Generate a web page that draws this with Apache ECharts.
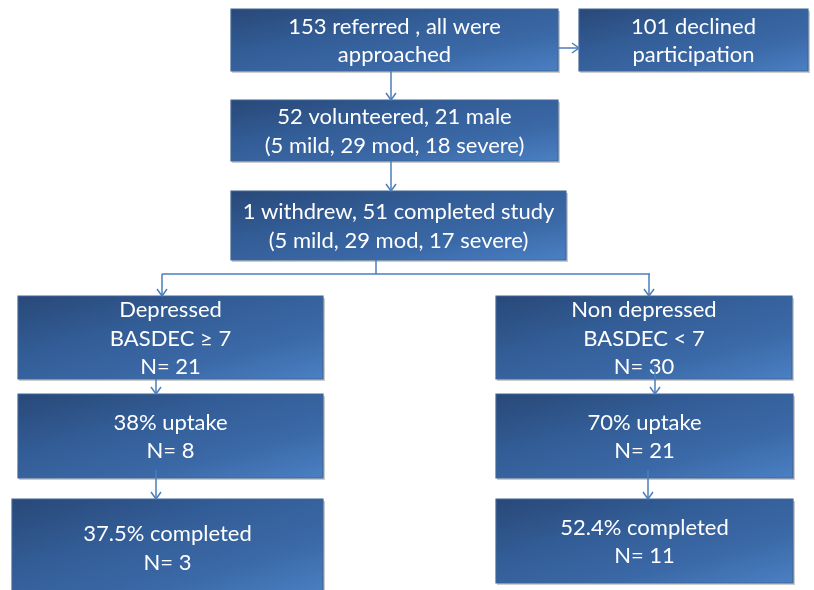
<!DOCTYPE html>
<html>
<head>
<meta charset="utf-8">
<script src="https://cdn.jsdelivr.net/npm/echarts@6/dist/echarts.min.js"></script>
<style>
html,body{margin:0;padding:0;background:#fff;}
#chart{width:814px;height:590px;}
</style>
</head>
<body>
<div id="chart"></div>
<script>
// Box texts (flowchart nodes)
const boxLabels = [
  "153 referred , all were\napproached",
  "101 declined\nparticipation",
  "52 volunteered, 21 male\n(5 mild, 29 mod, 18 severe)",
  "1 withdrew, 51 completed study\n(5 mild, 29 mod, 17 severe)",
  "Depressed\nBASDEC \u2265 7\nN= 21",
  "Non depressed\nBASDEC < 7\nN= 30",
  "38% uptake\nN= 8",
  "70% uptake\nN= 21",
  "37.5% completed\nN= 3",
  "52.4% completed\nN= 11"
];
// Box extents in layout units: [left, top, right, bottom]
const boxLayout = [
  [231, 9, 558, 71],
  [579, 9, 808, 71],
  [231, 100, 558, 161],
  [231, 191, 566, 260],
  [18, 296, 323, 379],
  [496, 296, 792, 379],
  [18, 394, 323, 478],
  [496, 394, 793, 478],
  [12, 499, 323, 596],
  [496, 499, 793, 583]
];
// Connectors: [x1, y1, x2, y2, arrow(1/0)]
const connectors = [
  [391, 71, 391, 100, 1],
  [558, 48, 579, 48, 1],
  [391, 161, 391, 191, 1],
  [376, 260, 376, 274, 0],
  [162, 274, 650, 274, 0],
  [162, 274, 162, 296, 1],
  [649, 274, 649, 296, 1],
  [156, 379, 156, 394, 1],
  [655, 366, 655, 394, 1],
  [156, 470, 156, 499, 1],
  [648, 470, 648, 499, 1]
];

const chart = echarts.init(document.getElementById('chart'), null, {renderer: 'canvas'});
const LINE = '#4a7ebb';

chart.setOption({
  backgroundColor: '#ffffff',
  animation: false,
  grid: {left: 0, right: 0, top: 0, bottom: 0},
  xAxis: {type: 'value', min: 0, max: 814, show: false},
  yAxis: {type: 'value', min: 0, max: 590, inverse: true, show: false},
  series: [
    {
      type: 'custom',
      coordinateSystem: 'cartesian2d',
      clip: true,
      z: 2,
      encode: {x: [0, 2], y: [1, 3]},
      data: boxLayout,
      renderItem: function (params, api) {
        const i = params.dataIndex;
        const p0 = api.coord([api.value(0), api.value(1)]);
        const p1 = api.coord([api.value(2), api.value(3)]);
        const w = p1[0] - p0[0], h = p1[1] - p0[1];
        // shape-scaled diagonal gradient: isolines parallel to anti-diagonal
        const k = 2 * w * h / (w * w + h * h);
        const grad = new echarts.graphic.LinearGradient(
          p0[0], p0[1], p0[0] + h * k, p0[1] + w * k, [
            {offset: 0, color: '#294878'},
            {offset: 0.35, color: '#325c95'},
            {offset: 0.7, color: '#3b69a7'},
            {offset: 1, color: '#4a80c4'}
          ], true);
        return {
          type: 'group',
          children: [
            {type: 'rect', shape: {x: p0[0] + 1, y: p0[1] + 2, width: w + 1, height: h},
             style: {fill: 'rgba(0,0,0,0.2)'}},
            {type: 'rect', shape: {x: p0[0], y: p0[1], width: w, height: h},
             style: {fill: grad, stroke: '#3f6698', lineWidth: 1.2}},
            {type: 'text', z2: 10,
             style: {
               text: boxLabels[i], x: (p0[0] + p1[0]) / 2, y: (p0[1] + p1[1]) / 2 + 1,
               align: 'center', verticalAlign: 'middle',
               fill: '#ffffff', font: '22px Lato', lineHeight: 28.5
             }}
          ]
        };
      }
    },
    {
      type: 'custom',
      coordinateSystem: 'cartesian2d',
      clip: false,
      z: 5,
      encode: {x: [0, 2], y: [1, 3]},
      data: connectors,
      renderItem: function (params, api) {
        const a = api.coord([api.value(0), api.value(1)]);
        const b = api.coord([api.value(2), api.value(3)]);
        const children = [
          {type: 'line', shape: {x1: a[0], y1: a[1], x2: b[0], y2: b[1]},
           style: {stroke: LINE, lineWidth: 1.5}}
        ];
        if (api.value(4)) {
          const dx = b[0] - a[0], dy = b[1] - a[1];
          const len = Math.sqrt(dx * dx + dy * dy) || 1;
          const ux = dx / len, uy = dy / len;
          const L = 7, W = 5;
          children.push({type: 'polyline',
            shape: {points: [
              [b[0] - ux * L - uy * W, b[1] - uy * L + ux * W],
              [b[0], b[1]],
              [b[0] - ux * L + uy * W, b[1] - uy * L - ux * W]
            ]},
            style: {stroke: LINE, lineWidth: 1.5, fill: null}});
        }
        return {type: 'group', children: children};
      }
    }
  ]
});
</script>
</body>
</html>
